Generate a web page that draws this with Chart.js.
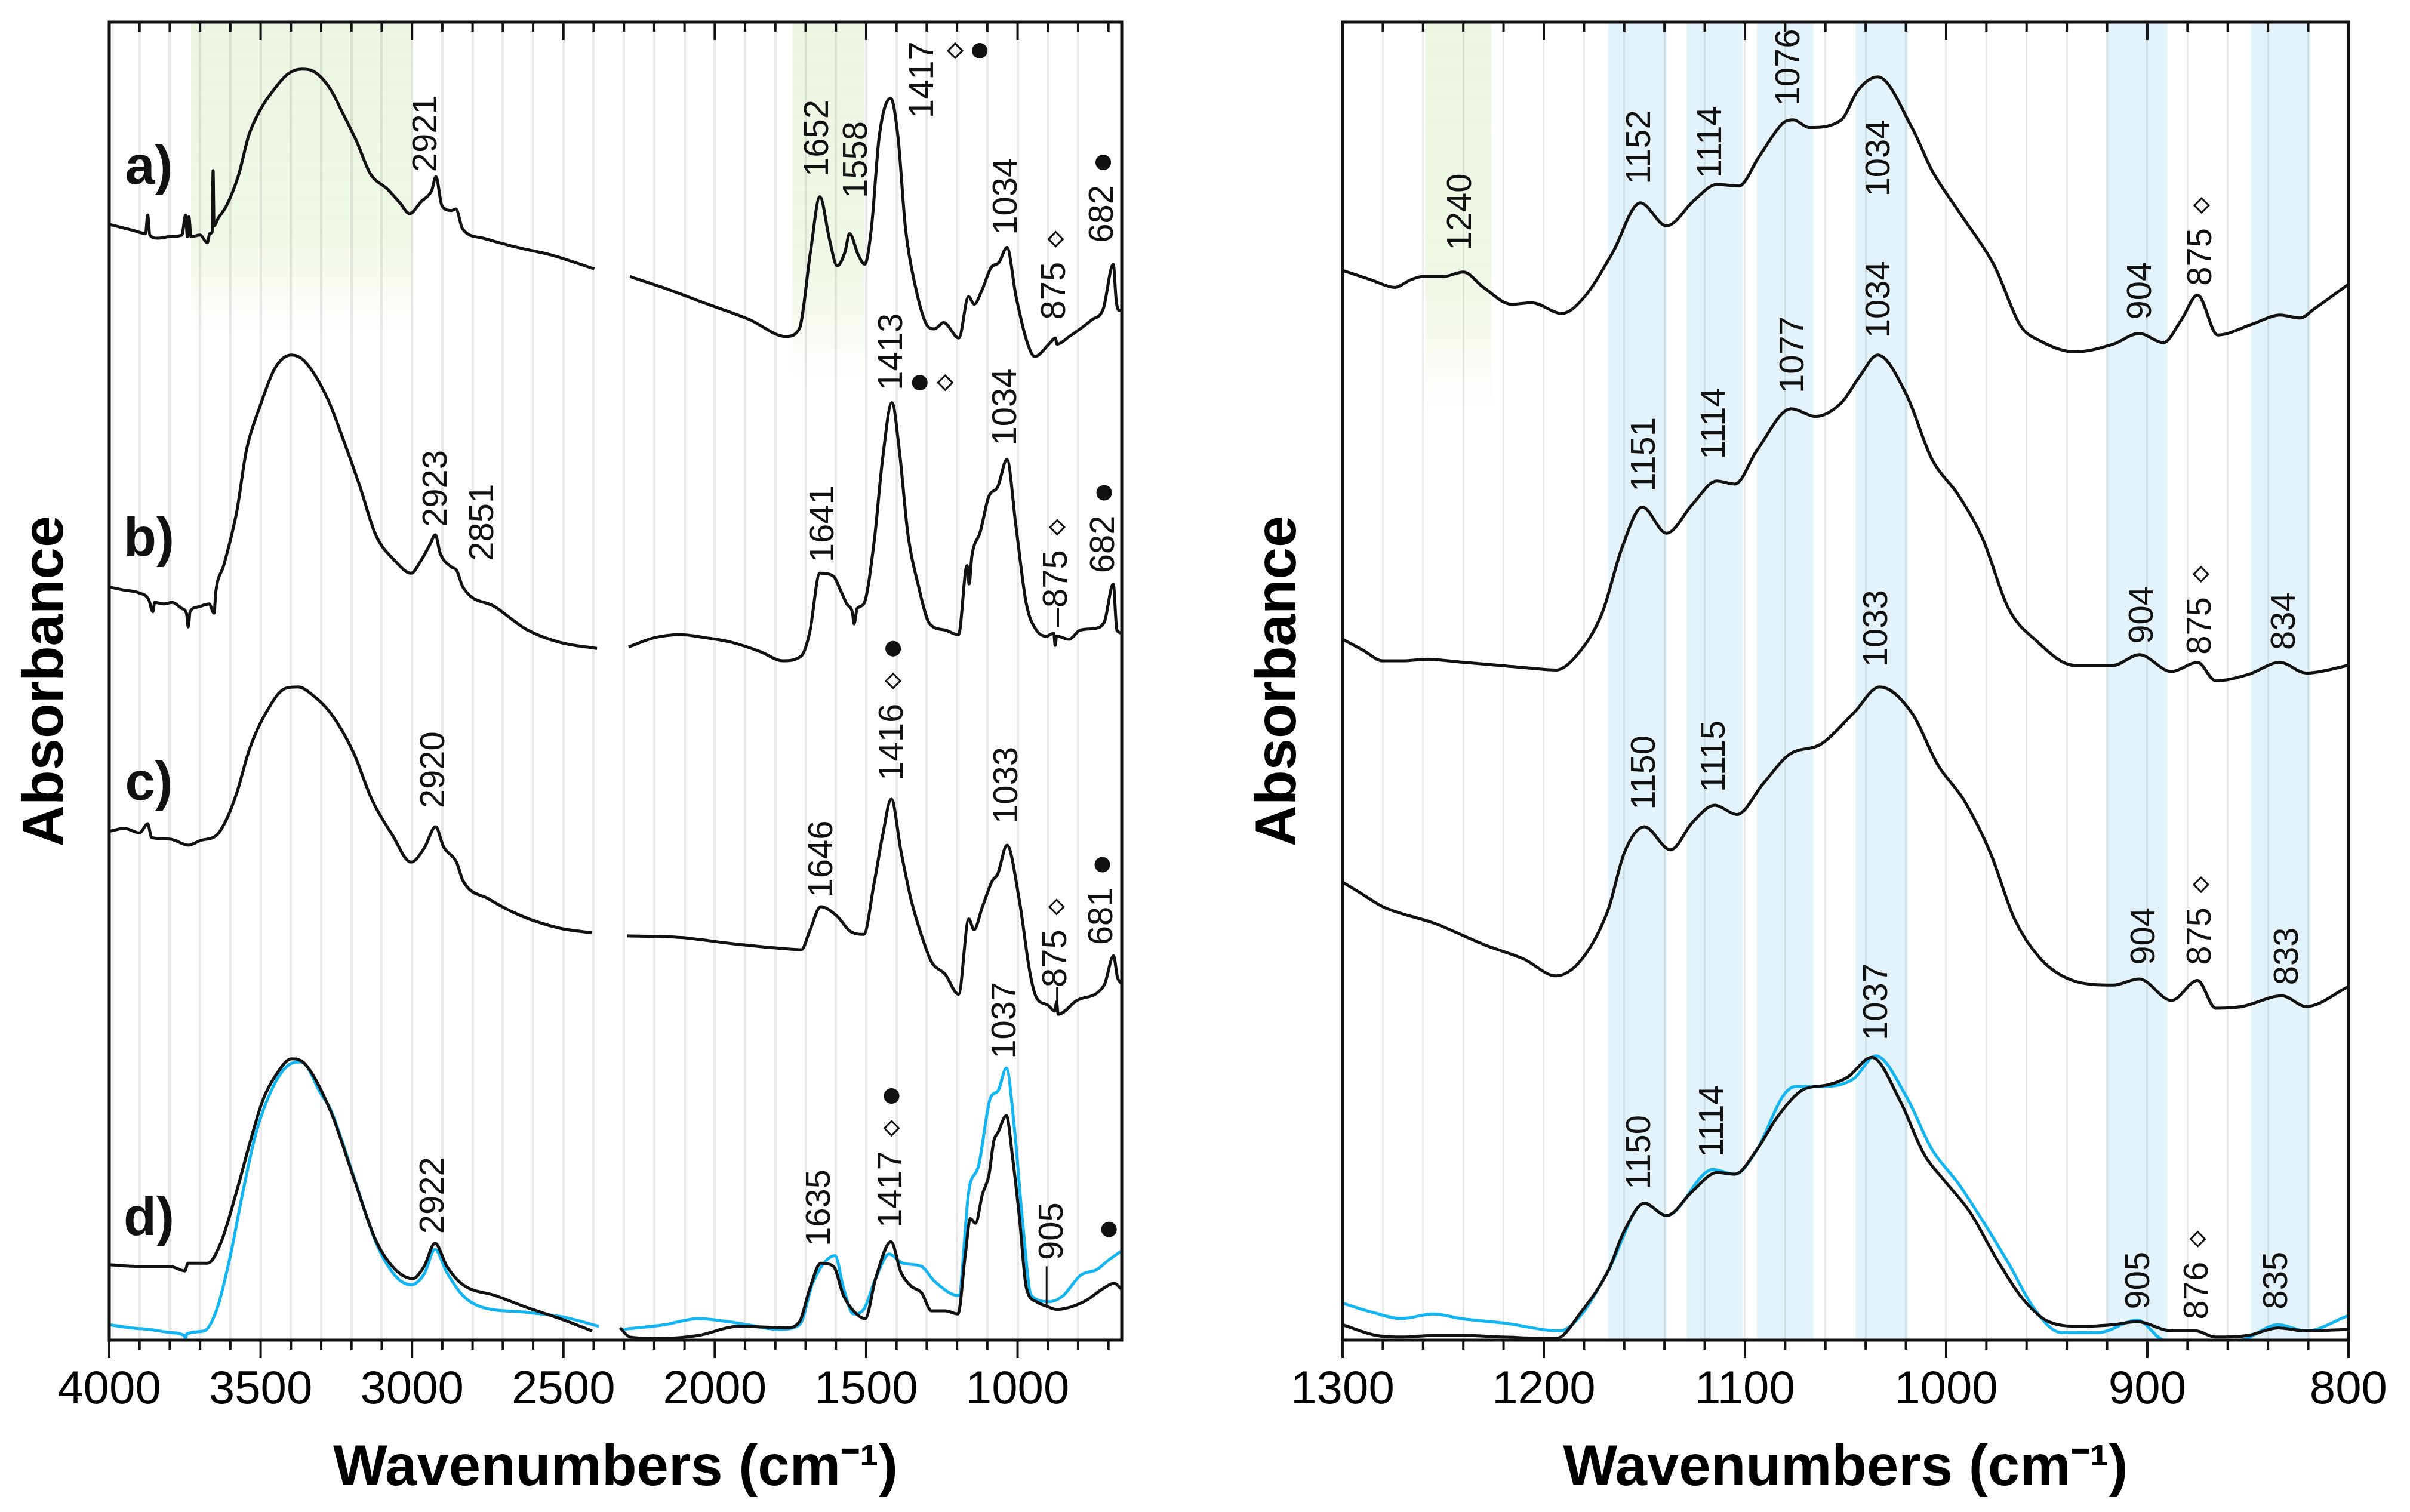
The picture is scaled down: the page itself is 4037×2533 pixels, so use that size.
<!DOCTYPE html>
<html>
<head>
<meta charset="utf-8">
<script src="https://cdn.jsdelivr.net/npm/chart.js@4.4.1/dist/chart.umd.min.js"></script>
<style>
  body { margin: 0; background: #fff; overflow: hidden; }
  #wrap { position: relative; width: 4037px; height: 2533px; background: #fff; }
  canvas { position: absolute; top: 0; }
</style>
</head>
<body>
<div id="wrap">
  <canvas id="leftChart" width="2030" height="2533" style="left:0"></canvas>
  <canvas id="rightChart" width="2007" height="2533" style="left:2030px"></canvas>
</div>
<script>
// spectra: [wavenumber, absorbance (offset, arbitrary units)]; null = axis break
const specA_full = [[4000,726],[3960,724],[3920,722],[3880,720],[3873,732],[3866,719],[3840,717],[3800,718],[3760,719],[3748,732],[3742,718],[3737,731],[3730,718],[3700,719],[3676,714],[3668,720],[3660,721],[3657,761],[3654,725],[3640,730],[3613,738],[3573,758],[3539,784],[3500,801],[3443,817],[3409,824],[3364,827],[3330,826],[3273,815],[3228,798],[3183,780],[3138,759],[3082,749],[3040,740],[3008,733],[2969,741],[2935,748],[2921,757],[2901,738],[2870,735],[2855,736],[2833,723],[2765,717],[2652,711],[2539,706],[2398,697],
  [2340,null],
  [2280,692],[2173,685],[2023,674],[1885,664],[1765,653],[1721,658],[1684,708],[1653,744],[1621,716],[1596,699],[1570,708],[1555,720],[1526,706],[1505,700],[1483,723],[1457,783],[1419,808],[1395,783],[1370,723],[1338,686],[1301,661],[1275,658],[1244,662],[1194,652],[1162,679],[1143,674],[1118,683],[1087,698],[1062,701],[1035,711],[1005,679],[968,649],[943,640],[892,649],[875,652],[870,648],[829,653],[754,664],[717,671],[684,700],[674,676],[664,670],[656,670]];

const specB_full = [[4000,490],[3950,488],[3899,486],[3870,482],[3856,474],[3850,480],[3820,479],[3792,480],[3760,476],[3745,473],[3739,464],[3733,474],[3707,477],[3670,479],[3654,473],[3648,487],[3622,504],[3579,539],[3547,579],[3505,606],[3451,633],[3398,641],[3355,637],[3280,613],[3227,586],[3173,556],[3120,524],[3056,507],[3003,499],[2971,507],[2940,518],[2923,524],[2907,512],[2870,503],[2853,501],[2832,490],[2725,477],[2618,462],[2512,454],[2389,450],
  [2340,null],
  [2285,451],[2200,457],[2112,459],[2030,457],[1944,454],[1850,448],[1776,442],[1715,445],[1687,460],[1653,499],[1608,497],[1585,488],[1564,479],[1545,473],[1540,466],[1530,476],[1508,479],[1474,519],[1446,573],[1415,610],[1390,578],[1362,524],[1329,492],[1290,466],[1239,462],[1195,459],[1167,504],[1160,492],[1151,510],[1123,526],[1095,549],[1066,555],[1035,573],[1005,529],[971,479],[938,462],[905,458],[880,460],[876,452],[871,458],[830,456],[793,462],[750,463],[714,467],[684,492],[672,462],[656,460]];

const specC_full = [[4000,331],[3950,333],[3900,330],[3873,336],[3860,327],[3800,326],[3739,322],[3700,325],[3643,329],[3610,340],[3579,356],[3536,385],[3483,408],[3419,424],[3376,425],[3330,420],[3269,408],[3195,383],[3131,351],[3066,329],[3003,311],[2960,320],[2922,334],[2896,321],[2853,311],[2832,299],[2746,287],[2639,276],[2512,268],[2405,265],
  [2340,null],
  [2290,263],[2112,262],[1944,258],[1788,255],[1714,254],[1687,266],[1650,282],[1597,276],[1553,266],[1508,264],[1474,297],[1446,328],[1417,352],[1385,318],[1351,286],[1315,262],[1284,246],[1239,238],[1195,225],[1161,274],[1144,267],[1116,282],[1083,299],[1066,303],[1035,322],[994,286],[960,240],[938,223],[900,218],[877,214],[871,220],[866,212],[804,221],[714,231],[683,250],[670,236],[656,232]];

const specD_full = [[4000,49],[3900,48],[3800,48],[3750,45],[3740,50],[3675,50],[3632,63],[3579,97],[3536,128],[3493,156],[3451,172],[3398,183],[3355,180],[3269,149],[3195,107],[3120,65],[3056,46],[2997,40],[2960,48],[2924,63],[2885,48],[2832,36],[2725,29],[2618,21],[2512,14],[2405,6],
  [2340,null],
  [2313,8],[2280,2],[2180,1],[2056,3],[1921,9],[1765,8],[1720,12],[1687,33],[1650,50],[1608,48],[1575,29],[1542,19],[1503,14],[1469,40],[1418,64],[1385,44],[1351,35],[1318,31],[1284,19],[1239,19],[1197,17],[1173,55],[1156,79],[1139,76],[1116,95],[1095,107],[1078,130],[1065,135],[1037,146],[1016,118],[994,80],[971,34],[938,25],[904,22],[871,20],[781,25],[714,34],[681,37],[656,33]];

const specDref_full = [[4000,10],[3930,8],[3867,7],[3800,5],[3752,3],[3748,1],[3744,4],[3686,6],[3643,21],[3600,55],[3558,97],[3515,135],[3461,164],[3408,179],[3366,181],[3300,160],[3269,150],[3195,108],[3120,64],[3056,42],[3003,36],[2960,43],[2924,59],[2885,44],[2832,29],[2778,22],[2618,18],[2500,15],[2383,9],
  [2340,null],
  [2302,7],[2167,10],[2056,14],[1921,11],[1788,7],[1720,10],[1675,38],[1603,55],[1575,34],[1542,17],[1508,20],[1469,40],[1424,56],[1379,50],[1318,48],[1273,38],[1195,29],[1161,97],[1128,114],[1089,158],[1065,162],[1037,177],[1011,139],[983,76],[955,29],[893,25],[849,29],[793,42],[737,46],[700,52],[664,57],[656,58]];

// zoom 1300-800
const specA_zoom = [[1300,696],[1286,690],[1274,685],[1266,690],[1260,692],[1250,692],[1240,695],[1230,685],[1216,674],[1206,675],[1191,668],[1179,680],[1166,707],[1152,740],[1139,725],[1125,742],[1114,752],[1103,751],[1093,770],[1081,792],[1076,794],[1068,789],[1052,794],[1044,813],[1034,822],[1017,789],[1007,761],[993,733],[976,699],[963,660],[953,650],[936,643],[917,648],[904,655],[892,649],[883,664],[875,680],[865,654],[848,661],[834,667],[824,665],[817,671],[800,687]];

const specB_zoom = [[1300,456],[1290,449],[1280,442],[1270,442],[1258,443],[1240,441],[1222,439],[1205,437],[1194,436],[1184,445],[1171,473],[1161,516],[1151,542],[1139,525],[1126,544],[1114,559],[1105,557],[1094,579],[1077,606],[1065,601],[1052,610],[1043,627],[1034,641],[1020,616],[1007,573],[994,550],[982,522],[969,476],[956,456],[936,439],[917,439],[904,446],[888,435],[875,441],[866,429],[850,433],[834,441],[821,434],[800,439]];

const specC_zoom = [[1300,298],[1290,290],[1280,282],[1254,271],[1229,257],[1210,248],[1194,237],[1181,248],[1168,280],[1160,317],[1150,334],[1137,319],[1126,337],[1115,348],[1104,342],[1091,362],[1078,381],[1062,388],[1046,408],[1033,425],[1017,408],[1004,374],[991,351],[978,317],[966,274],[953,248],[937,234],[917,231],[904,235],[888,221],[875,234],[866,216],[853,217],[833,224],[821,217],[800,230]];

const specD_zoom = [[1300,10],[1283,3],[1270,2],[1255,3],[1240,3],[1220,2],[1194,1],[1181,19],[1168,45],[1160,71],[1150,89],[1139,81],[1126,97],[1114,109],[1105,108],[1094,124],[1084,145],[1071,163],[1059,166],[1049,171],[1037,184],[1023,156],[1011,121],[1001,104],[988,83],[975,53],[962,27],[949,12],[933,9],[917,10],[905,12],[888,6],[876,6],[866,2],[850,3],[835,8],[821,6],[800,7]];

const specDref_zoom = [[1300,24],[1285,18],[1271,14],[1255,17],[1241,14],[1219,11],[1192,6],[1181,17],[1168,45],[1150,89],[1139,81],[1116,111],[1105,108],[1094,124],[1081,159],[1075,165],[1062,165],[1046,170],[1035,185],[1020,159],[1007,124],[994,102],[982,78],[969,50],[956,20],[943,5],[924,5],[905,13],[892,0],[876,-2],[853,0],[835,10],[821,6],[800,16]];

// peak labels: [text, wavenumber, absorbance at text start, symbols after text]
const fullLabels = [
  ['2921',2951,760,''],['1652',1658,757,''],['1558',1530,743,''],['1417',1310,795,''],['1034',1034,719,''],['875',874,664,'d'],['682',717,714,'c'],
  ['2923',2917,529,''],['2851',2763,507,''],['1641',1640,506,''],['1413',1413,618,''],['1034',1036,582,''],['\u2013875',869,464,'d'],['682',714,499,'c'],
  ['2920',2925,346,''],['1646',1643,288,''],['1416',1411,364,'dc'],['1033',1033,336,''],['\u2013875',871,217,'d'],['681',720,257,'c'],
  ['2922',2928,69,''],['1635',1651,61,''],['1417',1416,73,'dc'],['1037',1038,183,''],['905',882,52,'']
];
const fullMarks = [['d',1206,839],['c',1125,839],['c',1323,623],['d',1239,623],['c',698,72]];
const fullLeaders = [[904,23,904,48]];
const panelLetters = [['a)',3869,762],['b)',3869,520],['c)',3869,361],['d)',3869,78]];

const zoomLabels = [
  ['1240',1241,709,''],['1152',1152,752,''],['1114',1116.7,756,''],['1076',1077.8,803,''],['1034',1033,744,''],['904',903,664,''],['875',873,686,'d'],
  ['1151',1149.5,552,''],['1114',1114.8,573,''],['1077',1075.6,616,''],['1034',1033,652,''],['904',902,453,''],['875',873.3,446,'d'],['834',831.5,449,''],
  ['1150',1149.5,345,''],['1115',1114.8,356.5,''],['1033',1034,438,''],['904',901.3,244,''],['875',873.3,244,'d'],['833',830,231,''],
  ['1150',1151.8,98,''],['1114',1115.8,119,''],['1037',1034,195,''],['905',903.9,20,''],['876',874.9,13.4,'d'],['835',835.4,20,'']
];

// shaded regions: [from, to, fade-out absorbance or null, kind]
const fullBands = [[3730,3000,652,'g'],[1744,1505,620,'g']];
const zoomBands = [[1259,1226,602,'g'],[1168,1139,null,'b'],[1129,1101,null,'b'],[1094,1066,null,'b'],[1045,1019,null,'b'],[920,890,null,'b'],[848.5,819,null,'b']];

const Y_MAX = 857.6;
const FONT = '"Liberation Sans", Arial, Helvetica, sans-serif';
const INK = '#111';
const CYAN = '#12b5f2';

Chart.defaults.font.family = FONT;
Chart.defaults.color = '#000';

function toPts(arr) {
  return arr.map(p => ({ x: p[0], y: p[1] }));
}

function lineSet(arr, color) {
  return {
    data: toPts(arr),
    borderColor: color,
    borderWidth: 5,
    pointRadius: 0,
    spanGaps: false,
    cubicInterpolationMode: 'monotone',
    fill: false
  };
}

const bandsPlugin = {
  id: 'bands',
  beforeDraw(chart, args, opts) {
    const { ctx, chartArea: a, scales: { x, y } } = chart;
    ctx.save();
    opts.list.forEach(b => {
      const x1 = x.getPixelForValue(b[0]);
      const x2 = x.getPixelForValue(b[1]);
      if (b[3] === 'g') {
        const yEnd = y.getPixelForValue(b[2]);
        const g = ctx.createLinearGradient(0, a.top, 0, yEnd);
        g.addColorStop(0, 'rgba(200,228,165,0.32)');
        g.addColorStop(0.65, 'rgba(200,228,165,0.28)');
        g.addColorStop(1, 'rgba(200,228,165,0)');
        ctx.fillStyle = g;
        ctx.fillRect(x1, a.top, x2 - x1, yEnd - a.top);
      } else {
        ctx.fillStyle = 'rgba(175,222,245,0.36)';
        ctx.fillRect(x1, a.top, x2 - x1, a.bottom - a.top);
      }
    });
    ctx.restore();
  }
};

function drawSymbol(ctx, kind, cx, cy) {
  ctx.beginPath();
  if (kind === 'd') {
    const r = 12;
    ctx.moveTo(cx, cy - r); ctx.lineTo(cx + r, cy); ctx.lineTo(cx, cy + r); ctx.lineTo(cx - r, cy); ctx.closePath();
    ctx.lineWidth = 3;
    ctx.stroke();
  } else {
    ctx.arc(cx, cy, 13, 0, Math.PI * 2);
    ctx.fill();
  }
}

const notesPlugin = {
  id: 'notes',
  afterDatasetsDraw(chart, args, opts) {
    const { ctx, scales: { x, y } } = chart;
    ctx.save();
    ctx.fillStyle = INK;
    ctx.strokeStyle = INK;
    ctx.font = '58px ' + FONT;
    ctx.textAlign = 'left';
    ctx.textBaseline = 'middle';
    opts.labels.forEach(l => {
      ctx.save();
      ctx.translate(x.getPixelForValue(l[1]), y.getPixelForValue(l[2]));
      ctx.rotate(-Math.PI / 2);
      ctx.fillText(l[0], 0, 0);
      let pos = ctx.measureText(l[0]).width + 38;
      for (const s of l[3]) {
        drawSymbol(ctx, s, pos, 0);
        pos += 54;
      }
      ctx.restore();
    });
    (opts.marks || []).forEach(m => drawSymbol(ctx, m[0], x.getPixelForValue(m[1]), y.getPixelForValue(m[2])));
    ctx.lineWidth = 3;
    (opts.leaders || []).forEach(l => {
      ctx.beginPath();
      ctx.moveTo(x.getPixelForValue(l[0]), y.getPixelForValue(l[1]));
      ctx.lineTo(x.getPixelForValue(l[2]), y.getPixelForValue(l[3]));
      ctx.stroke();
    });
    ctx.font = 'bold 90px ' + FONT;
    ctx.textAlign = 'center';
    (opts.letters || []).forEach(l => ctx.fillText(l[0], x.getPixelForValue(l[1]), y.getPixelForValue(l[2])));
    ctx.restore();
  }
};

const framePlugin = {
  id: 'frame',
  afterDraw(chart, args, opts) {
    const { ctx, chartArea: a, scales: { x } } = chart;
    ctx.save();
    ctx.strokeStyle = INK;
    ctx.lineWidth = 4;
    const start = Math.ceil(x.min / opts.minor) * opts.minor;
    for (let v = start; v <= x.max; v += opts.minor) {
      const px = x.getPixelForValue(v);
      const len = v % opts.major === 0 ? 30 : 16;
      ctx.beginPath();
      ctx.moveTo(px, a.bottom); ctx.lineTo(px, a.bottom + len);
      ctx.moveTo(px, a.top); ctx.lineTo(px, a.top + len);
      ctx.stroke();
    }
    ctx.lineWidth = 5;
    ctx.strokeRect(a.left, a.top, a.right - a.left, a.bottom - a.top);
    ctx.restore();
  }
};

function makeChart(id, cfg) {
  return new Chart(document.getElementById(id), {
    type: 'line',
    data: { datasets: cfg.sets },
    options: {
      responsive: false,
      animation: false,
      devicePixelRatio: 1,
      layout: { padding: { top: 37, right: cfg.padRight, bottom: 0, left: 0 } },
      plugins: {
        legend: { display: false },
        tooltip: { enabled: false },
        bands: { list: cfg.bands },
        notes: cfg.notes,
        frame: { minor: cfg.minor, major: cfg.major }
      },
      scales: {
        x: {
          type: 'linear',
          reverse: true,
          min: cfg.xMin,
          max: cfg.xMax,
          grid: { color: 'rgba(0,0,0,0.085)', lineWidth: cfg.gridWidth, drawTicks: false },
          border: { display: false },
          ticks: {
            stepSize: cfg.minor,
            autoSkip: false,
            maxRotation: 0,
            padding: 38,
            color: '#000',
            font: { size: 78 },
            callback: v => (v % cfg.major === 0 ? String(v) : '')
          },
          title: {
            display: true,
            text: 'Wavenumbers (cm\u207B\u00B9)',
            color: '#000',
            font: { size: 96, weight: 'bold' },
            padding: { top: 0, bottom: 14 }
          },
          afterFit(s) { s.height = 288; }
        },
        y: {
          type: 'linear',
          min: 0,
          max: Y_MAX,
          grid: { display: false },
          border: { display: false },
          ticks: { display: false },
          title: {
            display: true,
            text: 'Absorbance',
            color: '#000',
            font: { size: 96, weight: 'bold' },
            padding: { top: cfg.yTitlePad, bottom: 0 }
          },
          afterFit(s) { s.width = cfg.yWidth; }
        }
      }
    },
    plugins: [bandsPlugin, notesPlugin, framePlugin]
  });
}

makeChart('leftChart', {
  sets: [lineSet(specA_full, INK), lineSet(specB_full, INK), lineSet(specC_full, INK), lineSet(specD_full, INK), lineSet(specDref_full, CYAN)],
  xMin: 656, xMax: 4000, minor: 100, major: 500, gridWidth: 4,
  padRight: 151, yWidth: 183, yTitlePad: 21,
  bands: fullBands,
  notes: { labels: fullLabels, marks: fullMarks, leaders: fullLeaders, letters: panelLetters }
});

makeChart('rightChart', {
  sets: [lineSet(specA_zoom, INK), lineSet(specB_zoom, INK), lineSet(specC_zoom, INK), lineSet(specD_zoom, INK), lineSet(specDref_zoom, CYAN)],
  xMin: 800, xMax: 1300, minor: 20, major: 100, gridWidth: 3,
  padRight: 90, yWidth: 219, yTitlePad: 56,
  bands: zoomBands,
  notes: { labels: zoomLabels }
});
</script>
</body>
</html>
